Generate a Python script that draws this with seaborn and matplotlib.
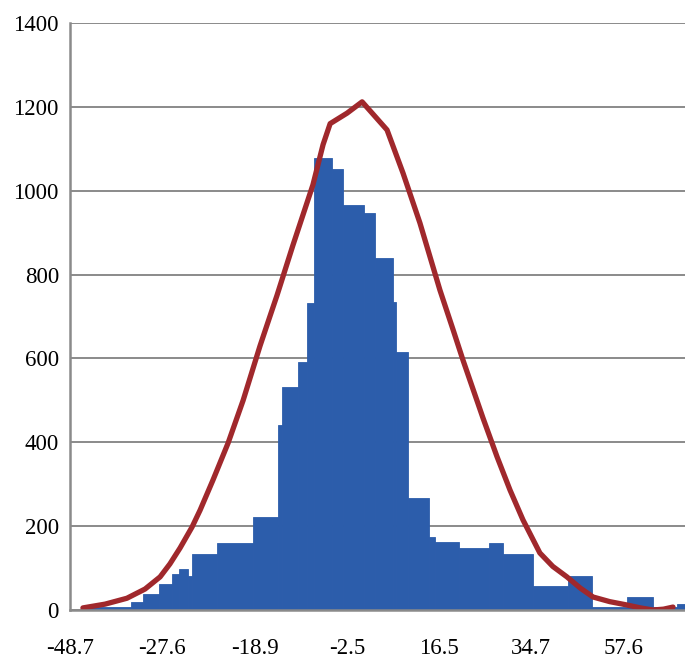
import matplotlib
matplotlib.use("Agg")
import matplotlib.pyplot as plt
import seaborn as sns
import numpy as np

# ---- data (x in category-tick units: tick k at position k, 0..20) ----
bin_edges = [0.42, 1.98, 2.37, 2.89, 3.32, 3.54, 3.84, 3.97, 4.78, 5.95, 6.76,
             6.89, 7.41, 7.71, 7.93, 8.52, 8.88, 9.56, 9.92, 10.50, 10.60,
             10.99, 11.67, 11.87, 12.65, 13.63, 14.08, 15.06, 16.20, 16.98,
             18.11, 18.96, 19.74, 20.0]
bin_counts = [8, 19, 39, 62, 86, 98, 82, 134, 160, 221, 441, 533, 592, 733,
              1078, 1052, 966, 947, 840, 735, 615, 267, 174, 162, 148, 160,
              134, 57, 80, 6, 31, 8, 15]

curve_x = [0.42, 1.14, 1.85, 2.44, 2.93, 3.25, 3.58, 3.97, 4.23, 4.65, 5.14,
           5.63, 6.18, 6.50, 6.73, 7.25, 7.90, 8.23, 8.46, 9.01, 9.50, 10.31,
           10.83, 11.38, 12.03, 12.46, 12.78, 13.43, 13.89, 14.31, 14.73,
           15.28, 15.70, 16.16, 16.60, 17.01, 17.55, 18.11, 18.55, 18.96,
           19.30, 19.61]
curve_y = [5, 14, 28, 50, 79, 110, 148, 198, 238, 310, 398, 500, 630, 700,
           750, 870, 1014, 1110, 1160, 1185, 1212, 1145, 1042, 923, 763, 668,
           596, 458, 365, 286, 215, 136, 104, 79, 52, 31, 20, 12, 5, 0, 2, 7]

tick_labels = ["-48.7", "-27.6", "-18.9", "-2.5", "16.5", "34.7", "57.6"]
y_ticks = [0, 200, 400, 600, 800, 1000, 1200, 1400]

# ---- plotting ----
sns.set_style("white")
plt.rcParams["font.family"] = ["Liberation Serif", "DejaVu Serif"]

fig = plt.figure(figsize=(6.85, 6.63), dpi=100)
ax = fig.add_axes([70 / 685, 53 / 663, 615 / 685, 587 / 663])

centers = [(bin_edges[i] + bin_edges[i + 1]) / 2 for i in range(len(bin_counts))]
sns.histplot(x=centers, weights=bin_counts, bins=bin_edges, stat="count",
             color="#2C5DAB", alpha=1.0, edgecolor="#2C5DAB", linewidth=0.6,
             ax=ax, zorder=2)
sns.lineplot(x=curve_x, y=curve_y, color="#A0282C", linewidth=3.8,
             ax=ax, zorder=3, sort=False)

ax.set_xlim(0, 20)
ax.set_ylim(0, 1400)
ax.set_xlabel("")
ax.set_ylabel("")

ax.set_yticks(y_ticks)
ax.set_yticklabels([str(v) for v in y_ticks])
xt = list(range(0, 21))
ax.set_xticks(xt)
labels = []
for k in xt:
    if k % 3 == 0 and k // 3 < len(tick_labels):
        labels.append(tick_labels[k // 3])
    else:
        labels.append("")
ax.set_xticklabels(labels)

ax.set_axisbelow(True)
ax.yaxis.grid(True, color="#8a8a8a", linewidth=1.4)
ax.xaxis.grid(False)

for side in ["top", "right"]:
    ax.spines[side].set_visible(False)
for side in ["left", "bottom"]:
    ax.spines[side].set_color("#8a8a8a")
    ax.spines[side].set_linewidth(1.8)
    ax.spines[side].set_zorder(4)

ax.tick_params(axis="both", which="both", direction="out", length=5,
               width=1.5, color="#8a8a8a", labelsize=16.5, labelcolor="black")
ax.tick_params(axis="x", pad=15)
ax.tick_params(axis="y", pad=3)

fig.savefig("out.png", dpi=100)
